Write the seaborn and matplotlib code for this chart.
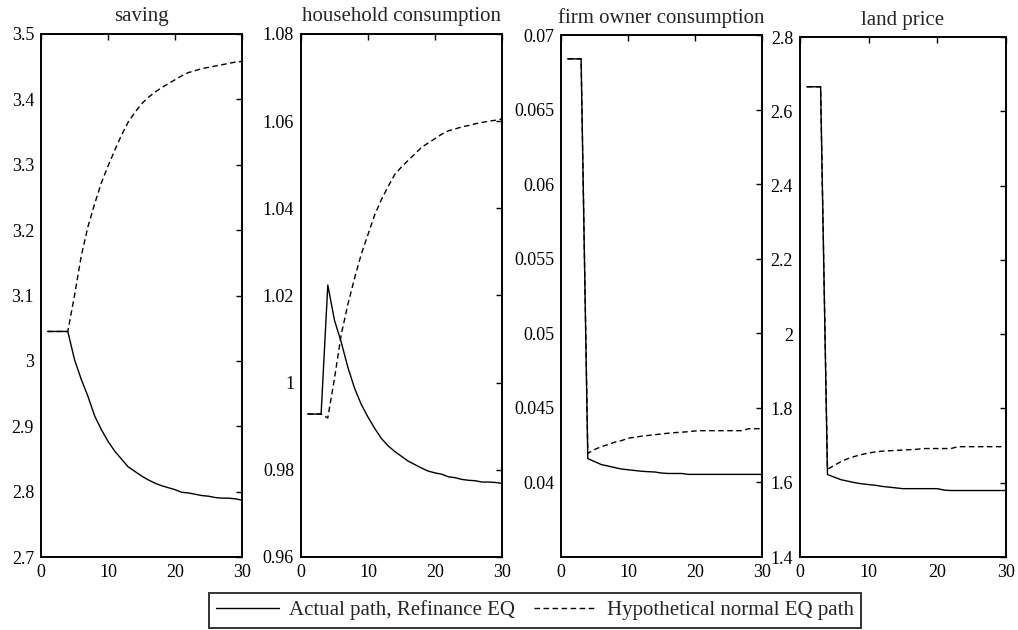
import numpy as np
import matplotlib
matplotlib.use("Agg")
import matplotlib.pyplot as plt
from matplotlib.ticker import FuncFormatter
import seaborn as sns

sns.set_theme(style="white")
plt.rcParams['font.family'] = ['Liberation Serif', 'DejaVu Serif']
plt.rcParams['xtick.direction'] = 'in'
plt.rcParams['ytick.direction'] = 'in'

# periods
t = list(range(1, 31))

# saving
saving_actual = [3.045, 3.045, 3.045, 3.045, 3.002, 2.972, 2.946, 2.916, 2.895, 2.877,
                 2.862, 2.850, 2.838, 2.831, 2.824, 2.818, 2.813, 2.809, 2.806, 2.803,
                 2.799, 2.798, 2.796, 2.794, 2.793, 2.791, 2.790, 2.790, 2.789, 2.787]
saving_hypo = [3.045, 3.045, 3.045, 3.045, 3.100, 3.160, 3.205, 3.240, 3.272, 3.298,
               3.322, 3.345, 3.365, 3.380, 3.393, 3.403, 3.411, 3.418, 3.424, 3.430,
               3.436, 3.441, 3.444, 3.447, 3.449, 3.451, 3.453, 3.455, 3.457, 3.458]

# household consumption
hh_actual = [0.9928, 0.9928, 0.9928, 1.0224, 1.0143, 1.0093, 1.0035, 0.9987, 0.9950, 0.9921,
             0.9895, 0.9872, 0.9855, 0.9842, 0.9831, 0.9820, 0.9812, 0.9804, 0.9797, 0.9793,
             0.9790, 0.9784, 0.9782, 0.9778, 0.9776, 0.9775, 0.9772, 0.9772, 0.9771, 0.9769]
hh_hypo = [0.9928, 0.9928, 0.9928, 0.9919, 1.0010, 1.0110, 1.0180, 1.0240, 1.0295, 1.0340,
           1.0385, 1.0420, 1.0450, 1.0478, 1.0495, 1.0510, 1.0525, 1.0540, 1.0550, 1.0560,
           1.0570, 1.0578, 1.0582, 1.0587, 1.0590, 1.0594, 1.0597, 1.0600, 1.0602, 1.0605]

# firm owner consumption
firm_actual = [0.0684, 0.0684, 0.0684, 0.0416, 0.0414, 0.0412, 0.0411, 0.0410, 0.0409, 0.04085,
               0.0408, 0.04075, 0.04072, 0.0407, 0.04063, 0.0406, 0.0406, 0.0406, 0.04054, 0.04054,
               0.04054, 0.04054, 0.04054, 0.04054, 0.04054, 0.04054, 0.04054, 0.04054, 0.04054, 0.04054]
firm_hypo = [0.0684, 0.0684, 0.0684, 0.04195, 0.0422, 0.0424, 0.04253, 0.0427, 0.0428, 0.04296,
             0.04303, 0.0431, 0.04315, 0.0432, 0.04325, 0.0433, 0.04334, 0.04337, 0.0434, 0.04345,
             0.04347, 0.04347, 0.04347, 0.04347, 0.04347, 0.04347, 0.04347, 0.0436, 0.0436, 0.0436]

# land price
land_actual = [2.666, 2.666, 2.666, 1.622, 1.615, 1.608, 1.604, 1.600, 1.597, 1.595,
               1.593, 1.590, 1.588, 1.586, 1.584, 1.584, 1.584, 1.584, 1.584, 1.584,
               1.580, 1.579, 1.579, 1.579, 1.579, 1.579, 1.579, 1.579, 1.579, 1.579]
land_hypo = [2.666, 2.666, 2.666, 1.636, 1.647, 1.657, 1.665, 1.671, 1.676, 1.680,
             1.683, 1.685, 1.686, 1.687, 1.688, 1.689, 1.690, 1.692, 1.692, 1.692,
             1.692, 1.692, 1.697, 1.697, 1.697, 1.697, 1.697, 1.697, 1.697, 1.697]

titles = ["saving", "household consumption", "firm owner consumption", "land price"]
series = [(saving_actual, saving_hypo), (hh_actual, hh_hypo),
          (firm_actual, firm_hypo), (land_actual, land_hypo)]
ylims = [(2.7, 3.5), (0.96, 1.08), (0.035, 0.07), (1.4, 2.8)]
yticks = [np.arange(2.7, 3.51, 0.1), np.arange(0.96, 1.081, 0.02),
          np.arange(0.04, 0.0701, 0.005), np.arange(1.4, 2.81, 0.2)]
legend_labels = ["Actual path, Refinance EQ", "Hypothetical normal EQ path"]

W, H = 1018, 630
fig = plt.figure(figsize=(W / 100, H / 100), dpi=100)
# axes boxes in pixels: left, top, right, bottom
boxes = [(41, 34, 242, 557), (301, 34, 502, 557), (561, 35, 762, 557), (800, 37, 1006, 557)]

for i, (title, (act, hyp)) in enumerate(zip(titles, series)):
    l, tp, r, b = boxes[i]
    ax = fig.add_axes([l / W, 1 - b / H, (r - l) / W, (b - tp) / H])
    sns.lineplot(x=t, y=act, ax=ax, color='black', lw=1.0)
    sns.lineplot(x=t, y=hyp, ax=ax, color='black', lw=1.0, linestyle=(0, (4, 2.5)))
    ax.set_xlim(0, 30)
    ax.set_ylim(*ylims[i])
    ax.set_xticks([0, 10, 20, 30])
    ax.set_yticks(yticks[i])
    ax.yaxis.set_major_formatter(FuncFormatter(lambda v, p: "%g" % round(v, 4)))
    ax.tick_params(axis='both', labelsize=13, length=4.5, width=1, top=True, right=True,
                   direction='in', pad=5, colors='black')
    for s in ax.spines.values():
        s.set_color('black')
        s.set_linewidth(1.4)
    ax.set_title(title, fontsize=15, pad=9)
    ax.set_xlabel("")
    ax.set_ylabel("")

handles = fig.axes[0].get_lines()[:2]
fig.legend(handles, legend_labels, loc='center', bbox_to_anchor=(535 / W, 1 - 610.5 / H),
           ncol=2, fontsize=15, frameon=True, fancybox=False, edgecolor='black',
           handlelength=3.0, columnspacing=0.9, handletextpad=0.5, borderpad=0.35,
           borderaxespad=0.0)
fig.legends[0].get_frame().set_linewidth(1.4)

fig.savefig("out.png", dpi=100)
